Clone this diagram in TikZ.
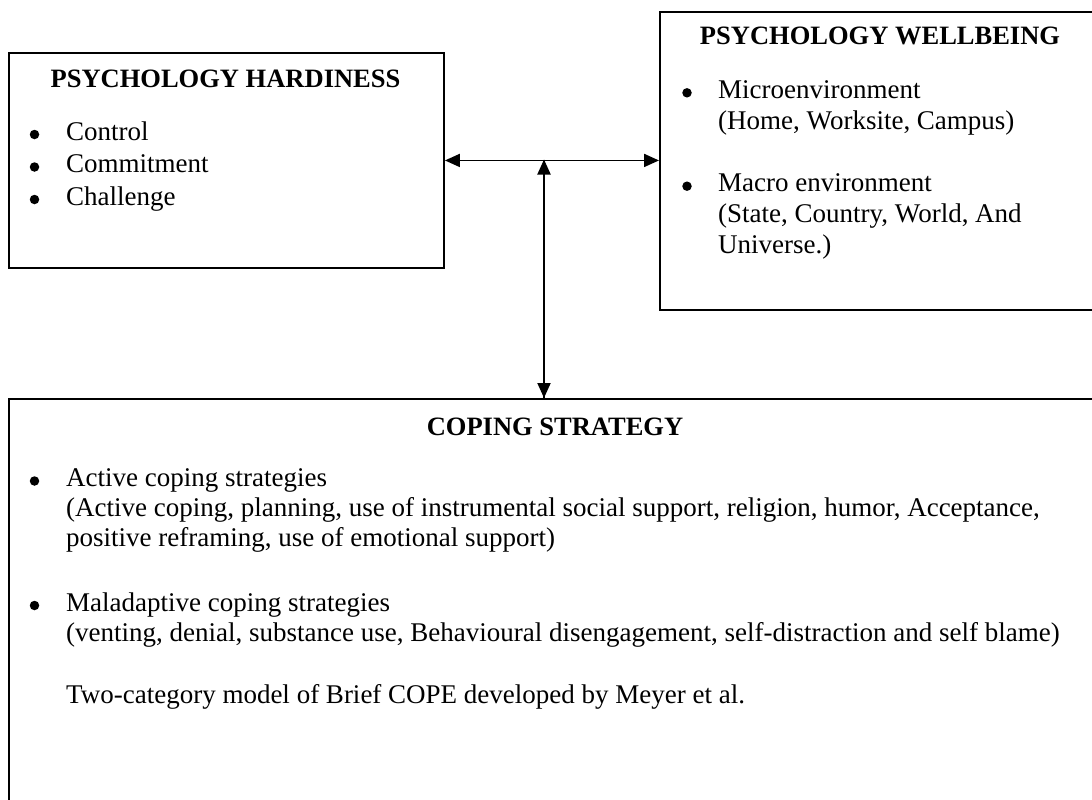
\documentclass[tikz,border=0pt]{standalone}
\usepackage{fontspec}
\setmainfont{Liberation Serif}
\usetikzlibrary{arrows.meta}

\begin{document}
\begin{tikzpicture}[x=1pt, y=-1pt,
  box/.style={draw=black, line width=1.9pt, fill=none, inner sep=0pt, anchor=north west},
  title/.style={inner sep=0pt, anchor=base, font=\fontsize{26.5}{31}\selectfont\bfseries},
  line/.style={inner sep=0pt, anchor=base west, font=\fontsize{27}{31}\selectfont},
  dot/.style={circle, fill=black, inner sep=0pt, minimum size=9.5pt},
  tip/.style={line width=1.9pt, -{Triangle[length=15pt,width=13pt]}},
  arr/.style={line width=1.9pt, {Triangle[length=15pt,width=13pt]}-{Triangle[length=15pt,width=13pt]}}
]
\useasboundingbox (0,0) rectangle (1092,800);

% the three boxes
\node[box, minimum width=435pt, minimum height=215pt] (hard) at (8,52) {};
\node[box, minimum width=442pt, minimum height=298pt] (well) at (659,11) {};
\node[box, minimum width=1094pt, minimum height=432pt] (cope) at (8,398) {};

% connectors
\coordinate (mid) at (544,159.5);
\draw[arr] (hard.east) -- (hard.east -| well.west);
\draw[tip] (mid |- cope.north) -- (mid);
\draw[tip] (mid) -- (mid |- cope.north);

% hardiness
\node[title] (hardT) at (225.5,87) {PSYCHOLOGY HARDINESS};
\node[dot] (hb1) at (34.5,134.5) {};
\node[line] (h1) at (66,140) {Control};
\node[dot] (hb2) at (34.5,167) {};
\node[line] (h2) at (66,172.5) {Commitment};
\node[dot] (hb3) at (34.5,199.5) {};
\node[line] (h3) at (66,205) {Challenge};

% wellbeing
\node[title] (wellT) at (880,45) {PSYCHOLOGY WELLBEING};
\node[dot] (wb1) at (687,92.8) {};
\node[line] (w1) at (718,98.3) {Microenvironment};
\node[line] (w2) at (718,129.3) {(Home, Worksite, Campus)};
\node[dot] (wb2) at (687,186.2) {};
\node[line] (w3) at (718,191.7) {Macro environment};
\node[line] (w4) at (718,222.7) {(State, Country, World, And};
\node[line] (w5) at (718,253.3) {Universe.)};

% coping
\node[title] (copeT) at (555,435) {COPING STRATEGY};
\node[dot] (cb1) at (34.5,481) {};
\node[line] (c1) at (66,486.5) {Active coping strategies};
\node[line] (c2) at (66,516.7) {(Active coping, planning, use of instrumental social support, religion, humor, Acceptance,};
\node[line] (c3) at (66,546.7) {positive reframing, use of emotional support)};
\node[dot] (cb2) at (34.5,605.5) {};
\node[line] (c4) at (66,611) {Maladaptive coping strategies};
\node[line] (c5) at (66,641.7) {(venting, denial, substance use, Behavioural disengagement, self-distraction and self blame)};
\node[line] (c6) at (66,703.3) {Two-category model of Brief COPE developed by Meyer et al.};
\end{tikzpicture}
\end{document}
